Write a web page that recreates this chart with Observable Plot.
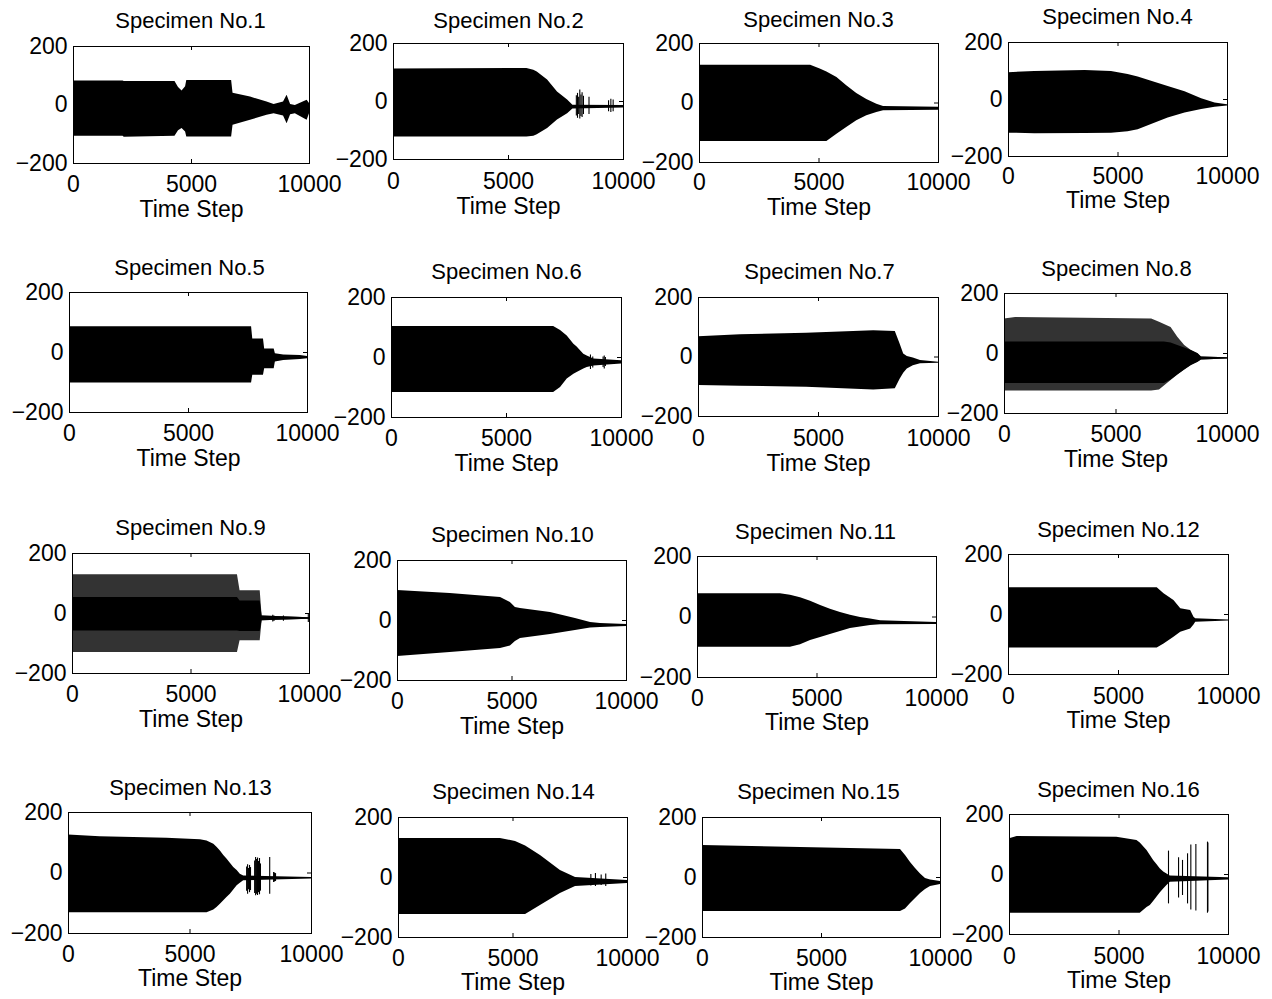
<!DOCTYPE html>
<html>
<head>
<meta charset="utf-8">
<script src="https://cdn.jsdelivr.net/npm/d3@7"></script>
<script src="https://cdn.jsdelivr.net/npm/@observablehq/plot@0.6"></script>
<style>
  html, body { margin: 0; padding: 0; background: white; }
  #root { position: relative; width: 1272px; height: 999px; background: white; overflow: hidden; }
  .panel { position: absolute; }
  .panel svg { max-width: none !important; }
</style>
</head>
<body>
<div id="root"></div>
<script>
// ---------- DATA (envelopes of the response signal) ----------
const xTicks = [0, 5000, 10000];
const yTicks = [-200, 0, 200];
const xLabel = "Time Step";
const titles = ["Specimen No.1","Specimen No.2","Specimen No.3","Specimen No.4",
                "Specimen No.5","Specimen No.6","Specimen No.7","Specimen No.8",
                "Specimen No.9","Specimen No.10","Specimen No.11","Specimen No.12",
                "Specimen No.13","Specimen No.14","Specimen No.15","Specimen No.16"];

const s1_t  = [0, 2100, 2150, 4300, 4450, 4600, 4750, 4800, 6700, 6760, 7500, 8200, 8500, 8900, 9050, 9200, 9400, 9900, 10000];
const s1_hi = [82, 82, 80, 80, 60, 48, 62, 84, 84, 40, 27, 10, 2, 10, 33, 2, -2, 16, 5];
const s1_lo = [-107, -107, -110, -107, -88, -80, -92, -109, -109, -69, -52, -35, -30, -38, -64, -33, -30, -52, -30];

const s2_t  = [0, 5800, 6100, 6250, 6700, 7130, 7570, 7800, 10000];
const s2_hi = [112, 114, 108, 102, 74, 33, 5, -13, -14];
const s2_lo = [-122, -122, -120, -115, -93, -64, -42, -26, -22];
const b2_t  = [7950, 8000, 8050, 8100, 8150, 8200, 8260, 8500, 9350, 9450, 9550];
const b2_hi = [20, 28, 15, 40, 22, 30, 18, 15, 3, 8, 5];
const b2_lo = [-50, -58, -45, -60, -52, -55, -45, -45, -35, -38, -35];

const s3_t  = [0, 4650, 5050, 5330, 5750, 6160, 6580, 7000, 7420, 7700, 10000];
const s3_hi = [127, 127, 114, 104, 86, 58, 32, 12, -4, -12, -14];
const s3_lo = [-129, -129, -129, -129, -105, -82, -60, -43, -32, -26, -24];

const s4_t  = [0, 1200, 3500, 4700, 5460, 5920, 6530, 7290, 8060, 8820, 9430, 10000];
const s4_hi = [94, 98, 102, 98, 88, 79, 64, 46, 27, 3, -12, -18];
const s4_lo = [-118, -120, -119, -118, -113, -106, -88, -65, -47, -35, -27, -23];

const s5_t  = [0, 7650, 7700, 8150, 8200, 8600, 8650, 9000, 9700, 10000];
const s5_hi = [86, 86, 45, 45, 12, 12, -4, -8, -10, -13];
const s5_lo = [-102, -102, -76, -76, -54, -54, -32, -27, -23, -21];

const s6_t  = [0, 7050, 7350, 7640, 7930, 8070, 8360, 8510, 8800, 10000];
const s6_hi = [103, 103, 90, 72, 44, 35, 11, 5, -5, -11];
const s6_lo = [-117, -117, -100, -72, -56, -50, -38, -33, -28, -22];
const b6_t  = [8650, 8750, 9200, 9250, 9300];
const b6_hi = [8, 2, 2, 5, 0];
const b6_lo = [-40, -35, -33, -38, -30];

const s7_t  = [0, 1750, 4500, 7300, 8200, 8400, 8550, 8700, 8950, 9250, 10000];
const s7_hi = [68, 75, 80, 88, 86, 44, 10, 2, -3, -12, -18];
const s7_lo = [-96, -98, -102, -111, -107, -75, -55, -40, -29, -23, -21];

const s8_t  = [0, 500, 6600, 6950, 7470, 7770, 8080, 8380, 8680, 8830, 10000];
const s8_hi = [115, 120, 115, 104, 87, 54, 27, 10, -1, -12, -14];
const s8_lo = [-125, -125, -125, -122, -90, -72, -55, -40, -29, -22, -18];
const c8_t  = [0, 7170, 7470, 7770, 8080, 8380, 8680, 8830, 10000];
const c8_hi = [38, 38, 35, 27, 18, 10, -1, -12, -14];
const c8_lo = [-100, -100, -88, -72, -55, -40, -29, -22, -18];

const s9_t  = [0, 6960, 7070, 7920, 8000, 10000];
const s9_hi = [129, 129, 76, 76, -8, -14];
const s9_lo = [-130, -130, -91, -91, -24, -19];
const c9_t  = [0, 6960, 7070, 7920, 8000, 10000];
const c9_hi = [53, 53, 42, 42, -8, -14];
const c9_lo = [-58, -58, -60, -60, -24, -19];
const b9_t  = [8450, 8500, 8900, 9950];
const b9_hi = [-6, -8, -8, -2];
const b9_lo = [-28, -27, -26, -30];

const s10_t  = [0, 2300, 4500, 4930, 5150, 5370, 6680, 7770, 8430, 8860, 10000];
const s10_hi = [100, 90, 77, 60, 43, 40, 27, 7, -7, -10, -13];
const s10_lo = [-120, -107, -93, -85, -70, -60, -47, -33, -25, -23, -20];

const s11_t  = [0, 3470, 3890, 4310, 4730, 5150, 5560, 5980, 6400, 6820, 7240, 7660, 10000];
const s11_hi = [77, 77, 72, 64, 52, 38, 26, 15, 6, -2, -7, -12, -18];
const s11_lo = [-100, -100, -100, -92, -78, -68, -58, -48, -38, -33, -28, -26, -25];

const s12_t  = [0, 6760, 7070, 7520, 7830, 8280, 8430, 8510, 10000];
const s12_hi = [89, 89, 69, 47, 19, 13, -9, -14, -18];
const s12_lo = [-112, -112, -98, -76, -59, -48, -35, -26, -22];

const s13_t  = [0, 1300, 4050, 5430, 5700, 5980, 6110, 6250, 6390, 6520, 6660, 6800, 6940, 7070, 7210, 10000];
const s13_hi = [126, 120, 115, 110, 106, 95, 85, 73, 58, 46, 32, 18, 8, -4, -10, -15];
const s13_lo = [-131, -131, -131, -131, -131, -122, -114, -103, -92, -81, -70, -56, -42, -34, -26, -20];
const b13_t  = [7330, 7370, 7410, 7450, 7490, 7660, 7700, 7740, 7780, 7820, 7860, 7900, 8280, 8440, 8480, 8520];
const b13_hi = [20, 27, 15, 25, 18, 40, 51, 45, 50, 38, 48, 30, 51, 2, 0, -2];
const b13_lo = [-60, -70, -55, -65, -58, -68, -75, -70, -74, -65, -72, -60, -70, -31, -30, -28];

const s14_t  = [0, 4450, 5110, 5550, 6200, 7070, 7730, 10000];
const s14_hi = [130, 130, 120, 105, 73, 23, 0, -10];
const s14_lo = [-123, -123, -123, -123, -93, -53, -30, -20];
const b14_t  = [8400, 8600, 8850, 9050];
const b14_hi = [10, 13, 8, 12];
const b14_lo = [-28, -30, -27, -30];

const s15_t  = [0, 4120, 8320, 8530, 8740, 8950, 9160, 9370, 9580, 10000];
const s15_hi = [107, 100, 93, 73, 50, 30, 12, -3, -8, -13];
const s15_lo = [-113, -113, -113, -105, -87, -70, -53, -40, -30, -23];

const s16_t  = [0, 350, 4900, 5820, 5970, 6280, 6430, 6580, 6730, 6880, 7040, 7190, 7340, 10000];
const s16_hi = [119, 127, 124, 113, 105, 80, 63, 47, 33, 19, 8, 2, -5, -11];
const s16_lo = [-129, -129, -129, -129, -129, -110, -103, -90, -76, -62, -48, -37, -26, -18];
const b16_t  = [7260, 7720, 7900, 8130, 8280, 8510, 9040, 9060];
const b16_hi = [78, 56, 47, 69, 98, 100, 108, 105];
const b16_lo = [-98, -78, -70, -98, -118, -122, -129, -125];

// ---------- build tables ----------
const rows = (t, hi, lo) => t.map((v, i) => ({t: v, hi: hi[i], lo: lo[i]}));
const series = [
  {env: rows(s1_t, s1_hi, s1_lo)},
  {env: rows(s2_t, s2_hi, s2_lo), bursts: rows(b2_t, b2_hi, b2_lo)},
  {env: rows(s3_t, s3_hi, s3_lo)},
  {env: rows(s4_t, s4_hi, s4_lo)},
  {env: rows(s5_t, s5_hi, s5_lo)},
  {env: rows(s6_t, s6_hi, s6_lo), bursts: rows(b6_t, b6_hi, b6_lo)},
  {env: rows(s7_t, s7_hi, s7_lo)},
  {env: rows(s8_t, s8_hi, s8_lo), core: rows(c8_t, c8_hi, c8_lo)},
  {env: rows(s9_t, s9_hi, s9_lo), core: rows(c9_t, c9_hi, c9_lo), bursts: rows(b9_t, b9_hi, b9_lo)},
  {env: rows(s10_t, s10_hi, s10_lo)},
  {env: rows(s11_t, s11_hi, s11_lo)},
  {env: rows(s12_t, s12_hi, s12_lo)},
  {env: rows(s13_t, s13_hi, s13_lo), bursts: rows(b13_t, b13_hi, b13_lo)},
  {env: rows(s14_t, s14_hi, s14_lo), bursts: rows(b14_t, b14_hi, b14_lo)},
  {env: rows(s15_t, s15_hi, s15_lo)},
  {env: rows(s16_t, s16_hi, s16_lo), bursts: rows(b16_t, b16_hi, b16_lo)}
];

// ---------- layout (page pixels): frame box, title centre, tick-label row, x-label row ----------
const layout = [
  {L: 73,  T: 46,  R: 309,  B: 163, tx: 190,  ty: 20,  ky: 183, sy: 209},
  {L: 393, T: 43,  R: 623,  B: 159, tx: 508,  ty: 20,  ky: 180, sy: 206},
  {L: 699, T: 43,  R: 938,  B: 162, tx: 818,  ty: 19,  ky: 181, sy: 207},
  {L: 1008,T: 42,  R: 1227, B: 156, tx: 1117, ty: 16,  ky: 175, sy: 200},
  {L: 69,  T: 292, R: 307,  B: 412, tx: 189,  ty: 267, ky: 432, sy: 458},
  {L: 391, T: 297, R: 621,  B: 417, tx: 506,  ty: 271, ky: 437, sy: 463},
  {L: 698, T: 297, R: 938,  B: 416, tx: 819,  ty: 271, ky: 437, sy: 463},
  {L: 1004,T: 293, R: 1227, B: 413, tx: 1116, ty: 268, ky: 433, sy: 459},
  {L: 72,  T: 553, R: 309,  B: 673, tx: 190,  ty: 527, ky: 693, sy: 719},
  {L: 397, T: 560, R: 626,  B: 680, tx: 512,  ty: 534, ky: 700, sy: 726},
  {L: 697, T: 556, R: 936,  B: 677, tx: 815,  ty: 531, ky: 697, sy: 722},
  {L: 1008,T: 554, R: 1228, B: 674, tx: 1118, ty: 529, ky: 695, sy: 720},
  {L: 68,  T: 812, R: 311,  B: 933, tx: 190,  ty: 787, ky: 953, sy: 978},
  {L: 398, T: 817, R: 627,  B: 937, tx: 513,  ty: 791, ky: 957, sy: 982},
  {L: 702, T: 817, R: 940,  B: 937, tx: 818,  ty: 791, ky: 957, sy: 982},
  {L: 1009,T: 814, R: 1228, B: 934, tx: 1118, ty: 789, ky: 955, sy: 980}
];

const FS = 23;      // tick labels and x label
const FS_T = 22;    // titles
const FONT = "'Liberation Sans', Arial, Helvetica, sans-serif";
const ml = 75, mr = 50, mt = 45, mb = 75;
const fmtY = d => d < 0 ? "\u2212" + Math.abs(d) : String(d);
const fmtX = d => String(d);

const root = document.getElementById("root");
series.forEach((s, i) => {
  const g = layout[i];
  const W = g.R - g.L, H = g.B - g.T;
  const marks = [];
  if (s.core) {
    marks.push(Plot.areaY(s.env, {x: "t", y1: "lo", y2: "hi", fill: "#333333"}));
    marks.push(Plot.areaY(s.core, {x: "t", y1: "lo", y2: "hi", fill: "black"}));
  } else {
    marks.push(Plot.areaY(s.env, {x: "t", y1: "lo", y2: "hi", fill: "black"}));
  }
  if (s.bursts) marks.push(Plot.ruleX(s.bursts, {x: "t", y1: "lo", y2: "hi", stroke: "black", strokeWidth: 1.1}));
  marks.push(
    Plot.frame({stroke: "black", strokeWidth: 1}),
    Plot.tickX([5000], {x: d => d, insetBottom: H - 4, stroke: "black"}),
    Plot.tickX([5000], {x: d => d, insetTop: H - 4, stroke: "black"}),
    Plot.tickY([0], {y: d => d, insetRight: W - 4, stroke: "black"}),
    Plot.tickY([0], {y: d => d, insetLeft: W - 4, stroke: "black"}),
    Plot.axisX({ticks: xTicks, tickSize: 0, tickPadding: g.ky - g.B - 0.35 * FS, tickFormat: fmtX, label: null, fill: "black"}),
    Plot.axisY({ticks: yTicks, tickSize: 0, tickPadding: 6, tickFormat: fmtY, label: null, fill: "black"}),
    Plot.text([titles[i]], {text: d => d, frameAnchor: "top", dy: g.ty - g.T, dx: g.tx - (g.L + g.R) / 2, lineAnchor: "middle", fill: "black", fontSize: FS_T}),
    Plot.text([xLabel], {text: d => d, frameAnchor: "bottom", dy: g.sy - g.B, lineAnchor: "middle", fill: "black", fontSize: FS})
  );
  const totalW = W + ml + mr, totalH = H + mt + mb;
  const svg = Plot.plot({
    width: totalW,
    height: totalH,
    marginLeft: ml, marginRight: mr, marginTop: mt, marginBottom: mb,
    x: {domain: [0, 10000]},
    y: {domain: [-200, 200]},
    style: {fontSize: FS + "px", fontFamily: FONT, background: "transparent", overflow: "visible", color: "black", maxWidth: "none"},
    marks
  });
  const div = document.createElement("div");
  div.className = "panel";
  div.style.left = (g.L - ml) + "px";
  div.style.top = (g.T - mt) + "px";
  div.style.width = totalW + "px";
  div.style.height = totalH + "px";
  div.appendChild(svg);
  root.appendChild(div);
});
</script>
</body>
</html>
